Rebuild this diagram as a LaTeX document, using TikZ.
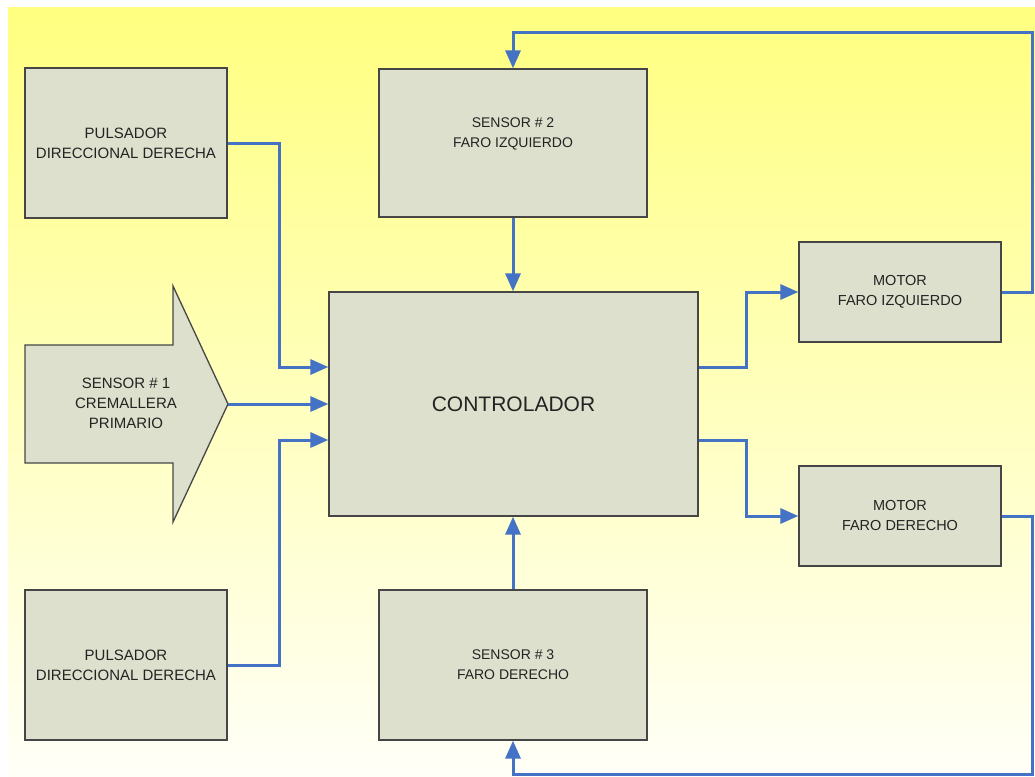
\documentclass[tikz,border=0pt]{standalone}
\usepackage{fontspec}
\setmainfont{Liberation Sans}
\usetikzlibrary{arrows.meta}
\definecolor{boxfill}{RGB}{221,224,204}
\definecolor{boxline}{RGB}{70,70,70}
\definecolor{wire}{RGB}{68,114,196}
\definecolor{ink}{RGB}{35,35,35}
\definecolor{bgtop}{RGB}{255,255,128}
\definecolor{bgbot}{RGB}{255,255,248}

\begin{document}
\begin{tikzpicture}[x=1pt,y=-1pt,
  txt/.style={align=center, text=ink, inner sep=0pt, font=\fontsize{15}{20}\selectfont},
  box/.style={txt, draw=boxline, line width=1.3pt, fill=boxfill},
  shapebox/.style={draw=boxline, line width=1.3pt, fill=boxfill},
  conn/.style={draw=wire, line width=3pt, -{Triangle[length=18pt,width=15pt]}}]

% page and shaded background
\useasboundingbox (0,0) rectangle (1035,776);
\fill[white] (0,0) rectangle (1035,776);
\fill[top color=bgtop, bottom color=bgbot] (8,8) rectangle (1035,776);

% blocks
\node[box, minimum width=202pt, minimum height=150pt] (p1) at (126,143) {PULSADOR\\DIRECCIONAL DERECHA};
\node[box, minimum width=202pt, minimum height=150pt] (p2) at (126,665) {PULSADOR\\DIRECCIONAL DERECHA};
\node[box, minimum width=268pt, minimum height=148pt] (s2) at (513,143) {};
\node[txt, font=\fontsize{14}{20}\selectfont] (s2t) at (513,134) {SENSOR \# 2\\FARO IZQUIERDO};
\node[box, minimum width=268pt, minimum height=150pt, font=\fontsize{14}{20}\selectfont] (s3) at (513,665) {SENSOR \# 3\\FARO DERECHO};
\node[box, minimum width=369pt, minimum height=224pt, font=\fontsize{21}{24}\selectfont] (ctrl) at (513.5,404) {CONTROLADOR};
\node[box, minimum width=202pt, minimum height=100pt, font=\fontsize{14.5}{20}\selectfont] (m1) at (900,292) {MOTOR\\FARO IZQUIERDO};
\node[box, minimum width=202pt, minimum height=100pt, font=\fontsize{14.5}{20}\selectfont] (m2) at (900,516) {MOTOR\\FARO DERECHO};

% block arrow of the main sensor
\draw[shapebox] (25,345) -- (173,345) -- (173,286) -- (228,404) -- (173,522) -- (173,463) -- (25,463) -- cycle;
\coordinate (s1tip) at (228,404);
\node[txt] (s1) at (126,403) {SENSOR \# 1\\CREMALLERA\\PRIMARIO};

% corners of the feedback loops
\coordinate (tr) at (1032,33);
\coordinate (br) at (1032,774);

% inputs to the controller
\draw[conn] (p1.east) -- ++(52,0) |- ([yshift=37pt]ctrl.west);
\draw[conn] (s1tip) -- (ctrl.west);
\draw[conn] (p2.east) -- ++(52,0) |- ([yshift=-36pt]ctrl.west);
\draw[conn] (s2.south) -- (s2.south |- ctrl.north);
\draw[conn] (s3.north) -- (s3.north |- ctrl.south);

% outputs to the motors
\draw[conn] ([yshift=37pt]ctrl.east) -- ++(48,0) |- (m1.west);
\draw[conn] ([yshift=-36pt]ctrl.east) -- ++(48,0) |- (m2.west);

% feedback from the motors to the headlight sensors
\draw[conn] (m1.east) -| (tr) -| (s2.north);
\draw[conn] (m2.east) -| (br) -| (s3.south);
\end{tikzpicture}
\end{document}
